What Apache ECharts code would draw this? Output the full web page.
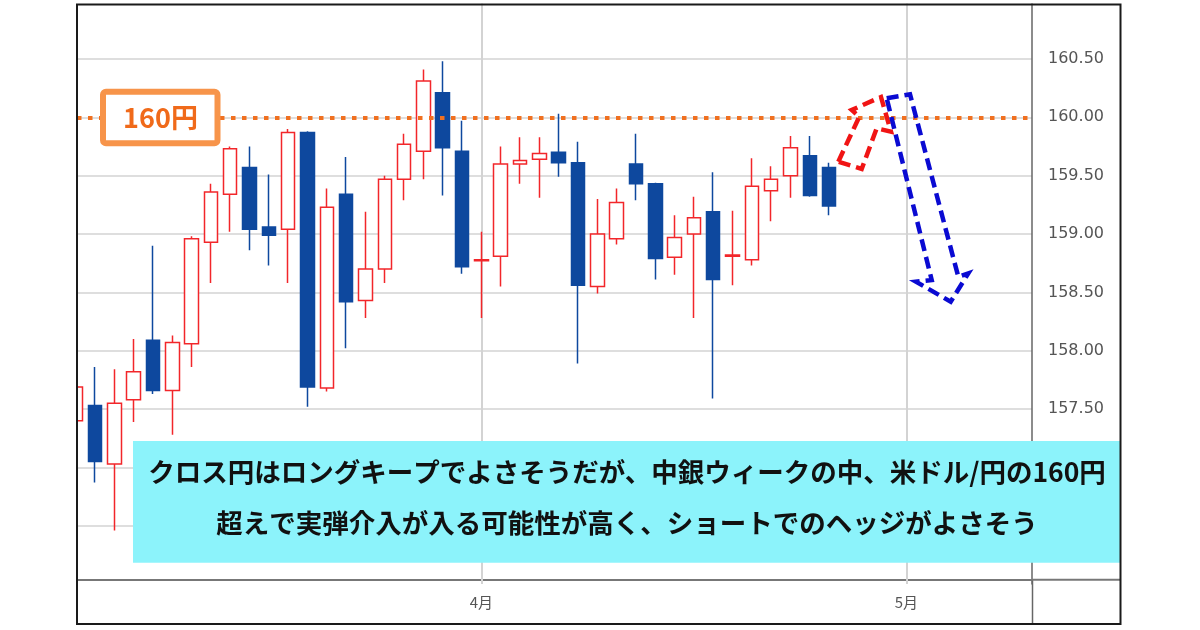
<!DOCTYPE html>
<html>
<head>
<meta charset="utf-8">
<script src="https://cdn.jsdelivr.net/npm/echarts@6/dist/echarts.min.js"></script>
<style>
html, body { margin: 0; padding: 0; background: #fff; }
#chart { width: 1200px; height: 630px; }
</style>
</head>
<body>
<div id="chart"></div>
<script>
// 営業日 (3/1 - 5/9)
var categories = [
  '3/1', '3/4', '3/5', '3/6', '3/7', '3/8', '3/11', '3/12', '3/13', '3/14', '3/15',
  '3/18', '3/19', '3/20', '3/21', '3/22', '3/25', '3/26', '3/27', '3/28', '3/29',
  '4/1', '4/2', '4/3', '4/4', '4/5', '4/8', '4/9', '4/10', '4/11', '4/12',
  '4/15', '4/16', '4/17', '4/18', '4/19', '4/22', '4/23', '4/24', '4/25', '4/26',
  '4/29', '4/30', '5/1', '5/2', '5/3', '5/6', '5/7', '5/8', '5/9'
]
var opens = [
  157.40, 157.53, 157.03, 157.58, 158.09, 157.66, 158.06, 158.93, 159.34, 159.57,
  159.06, 159.04, 159.87, 157.68, 159.34, 158.43, 158.70, 159.47, 159.71, 160.21,
  159.71, 158.77, 158.81, 159.60, 159.64, 159.70, 159.61, 158.55, 158.96, 159.60,
  159.43, 158.80, 159.00, 159.19, 158.81, 158.78, 159.37, 159.50, 159.67, 159.57
]
var closes = [
  157.69, 157.05, 157.55, 157.82, 157.66, 158.07, 158.96, 159.36, 159.73, 159.04,
  158.99, 159.87, 157.69, 159.23, 158.42, 158.70, 159.47, 159.77, 160.31, 159.74,
  158.72, 158.78, 159.60, 159.63, 159.69, 159.61, 158.56, 159.00, 159.27, 159.43,
  158.79, 158.97, 159.14, 158.61, 158.82, 159.41, 159.47, 159.74, 159.33, 159.24
]
var lows = [
  157.36, 156.87, 156.46, 157.39, 157.63, 157.28, 157.86, 158.58, 159.02, 158.86,
  158.73, 158.58, 157.52, 157.65, 158.02, 158.28, 158.58, 159.29, 159.47, 159.33,
  158.66, 158.28, 158.55, 159.43, 159.31, 159.49, 157.89, 158.49, 158.91, 159.29,
  158.61, 158.65, 158.28, 157.59, 158.56, 158.73, 159.11, 159.31, 159.32, 159.16
]
var highs = [
  157.72, 157.86, 157.84, 158.10, 158.90, 158.13, 158.98, 159.43, 159.75, 159.75,
  159.51, 159.90, 159.88, 159.39, 159.66, 159.19, 159.50, 159.86, 160.41, 160.48,
  159.97, 159.02, 159.75, 159.83, 159.83, 160.03, 159.79, 159.30, 159.39, 159.86,
  159.44, 159.16, 159.32, 159.53, 159.20, 159.65, 159.58, 159.84, 159.84, 159.61
]
var monthTicks = ['4/1', '5/1']
var monthLabels = ['4月', '5月']
var yMin = 156
var yMax = 161
var yStep = 0.5
var lineLevel = 160
var lineLabel = '160円'
var noteLines = [
  'クロス円はロングキープでよさそうだが、中銀ウィークの中、米ドル/円の160円',
  '超えで実弾介入が入る可能性が高く、ショートでのヘッジがよさそう'
]

var candleData = opens.map(function (o, i) {
  return [o, closes[i], lows[i], highs[i]]
})

var chart = echarts.init(document.getElementById('chart'))

var option = {
  animation: false,
  backgroundColor: '#fff',
  grid: { left: 66, right: 168, top: 0.6, bottom: 45.9 },
  xAxis: {
    type: 'category',
    data: categories,
    boundaryGap: true,
    offset: -4.4,
    axisLine: { lineStyle: { color: '#777', width: 2 } },
    axisTick: { show: false },
    splitLine: { show: false },
    axisLabel: {
      interval: 0,
      margin: 15,
      color: '#555',
      fontSize: 15,
      fontFamily: 'Noto Sans CJK JP',
      formatter: function (v) {
        var k = monthTicks.indexOf(v)
        return k >= 0 ? monthLabels[k] : ''
      }
    }
  },
  yAxis: {
    type: 'value',
    position: 'right',
    min: yMin,
    max: yMax,
    interval: yStep,
    axisLine: { show: true, lineStyle: { color: '#666', width: 1.5 } },
    axisTick: { show: false },
    splitLine: {
      show: true,
      showMinLine: false,
      showMaxLine: false,
      lineStyle: { color: '#d3d3d3', width: 1.5 }
    },
    axisLabel: {
      showMinLabel: false,
      showMaxLabel: false,
      margin: 16,
      color: '#555',
      fontSize: 16,
      fontFamily: 'DejaVu Sans',
      formatter: function (v) { return v.toFixed(2) }
    }
  },
  series: [
    {
      type: 'candlestick',
      data: candleData,
      barWidth: 14,
      itemStyle: {
        color: '#fff',
        color0: '#0e489e',
        borderColor: '#f2262a',
        borderColor0: '#0e489e',
        borderWidth: 1.5
      },
      // 月の区切り線 (ローソクの下)
      markLine: {
        z: 1,
        silent: true,
        symbol: 'none',
        label: { show: false },
        lineStyle: { color: '#d3d3d3', width: 2, type: 'solid' },
        data: monthTicks.map(function (m) { return { xAxis: m } })
      }
    },
    {
      type: 'line',
      data: [],
      markLine: {
        z: 6,
        silent: true,
        symbol: 'none',
        label: { show: false },
        lineStyle: { color: '#f07020', width: 4, type: [4.5, 6.5] },
        data: [{ yAxis: lineLevel }]
      }
    }
  ]
}
chart.setOption(option)

// 注記・枠
var yLine = chart.convertToPixel({ yAxisIndex: 0 }, lineLevel)
chart.setOption({
  graphic: [
    { type: 'rect', z: 100, shape: { x: 0, y: 0, width: 76, height: 630 }, style: { fill: '#fff' } },
    { type: 'rect', z: 100, shape: { x: 0, y: 0, width: 1200, height: 3.5 }, style: { fill: '#fff' } },
    { type: 'rect', z: 100, shape: { x: 1121.5, y: 0, width: 80, height: 630 }, style: { fill: '#fff' } },
    { type: 'rect', z: 100, shape: { x: 0, y: 625, width: 1200, height: 5 }, style: { fill: '#fff' } },
    // 軸線の延長
    { type: 'line', z: 101, shape: { x1: 1032.5, y1: 580, x2: 1032.5, y2: 624 }, style: { stroke: '#666', lineWidth: 1.5 } },
    { type: 'line', z: 101, shape: { x1: 1032, y1: 579.7, x2: 1120, y2: 579.7 }, style: { stroke: '#777', lineWidth: 2 } },
    // 160円 ラベル
    {
      type: 'rect', z: 102,
      shape: { x: 103, y: yLine - 25.5, width: 114.5, height: 51.5, r: 3 },
      style: { fill: '#fff', stroke: '#f7944a', lineWidth: 6 }
    },
    {
      type: 'text', z: 103, x: 160.5, y: yLine,
      style: {
        text: lineLabel, fill: '#f06a1a', font: 'bold 27px "Noto Sans CJK JP"',
        align: 'center', verticalAlign: 'middle'
      }
    },
    // 矢印
    {
      type: 'polygon', z: 104,
      shape: { points: [[838.3, 161.7], [859.3, 116.7], [851.7, 110], [881, 97], [891, 131.7], [876.7, 128.3], [861.7, 169]] },
      style: { fill: 'none', stroke: '#f01414', lineWidth: 4.5, lineDash: [12, 6] }
    },
    {
      type: 'polygon', z: 104,
      shape: { points: [[886.7, 98.3], [910, 94.3], [958.3, 276.7], [968.3, 273.3], [950.7, 301.7], [916, 281.7], [931.7, 280]] },
      style: { fill: 'none', stroke: '#0a0ad2', lineWidth: 4.5, lineDash: [12, 6] }
    },
    // コメント
    { type: 'rect', z: 105, shape: { x: 133, y: 441, width: 987, height: 121.7 }, style: { fill: '#8cf3fb' } },
    {
      type: 'text', z: 106, x: 627, y: 472,
      style: { text: noteLines[0], fill: '#111', font: 'bold 26.5px "Noto Sans CJK JP"', align: 'center', verticalAlign: 'middle' }
    },
    {
      type: 'text', z: 106, x: 627, y: 523,
      style: { text: noteLines[1], fill: '#111', font: 'bold 26.5px "Noto Sans CJK JP"', align: 'center', verticalAlign: 'middle' }
    },
    // 外枠
    {
      type: 'rect', z: 110,
      shape: { x: 77, y: 4.5, width: 1043.5, height: 619.5 },
      style: { fill: 'none', stroke: '#1a1a1a', lineWidth: 2 }
    }
  ]
})
</script>
</body>
</html>
